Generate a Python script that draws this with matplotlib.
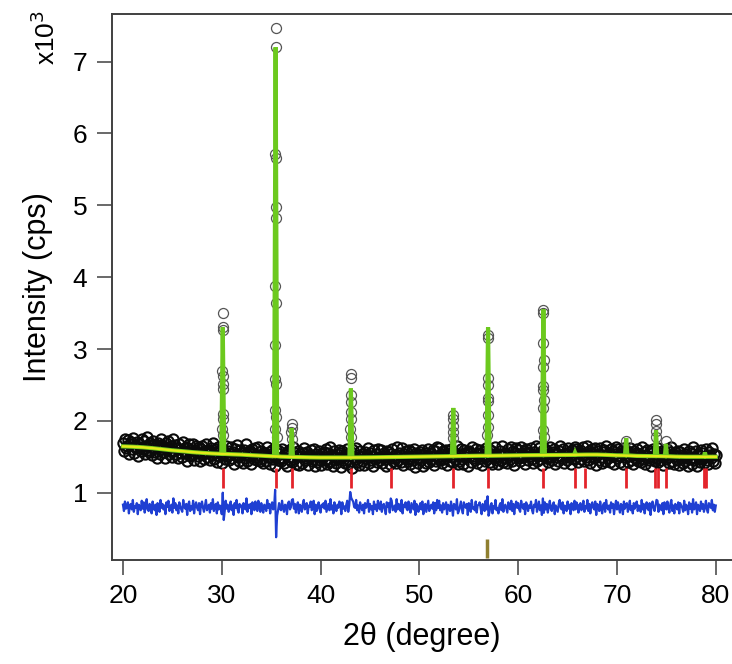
import numpy as np
import matplotlib
matplotlib.use("Agg")
import matplotlib.pyplot as plt

plt.rcParams["font.family"] = ["Liberation Sans", "DejaVu Sans"]

# --- background (calc, x10^3 cps) read every 1 degree from 20 to 80 ---
bg_deg = np.arange(20, 81)
bg_val = [1.645, 1.640, 1.632, 1.620, 1.605, 1.590, 1.578, 1.565, 1.555, 1.546,
          1.540, 1.535, 1.530, 1.522, 1.515, 1.508, 1.502, 1.498, 1.495, 1.492,
          1.490, 1.490, 1.490, 1.490, 1.491, 1.492, 1.494, 1.496, 1.498, 1.500,
          1.502, 1.504, 1.506, 1.508, 1.510, 1.512, 1.514, 1.515, 1.516, 1.518,
          1.520, 1.522, 1.523, 1.524, 1.525, 1.526, 1.528, 1.530, 1.530, 1.526,
          1.520, 1.516, 1.512, 1.510, 1.508, 1.505, 1.502, 1.500, 1.500, 1.500,
          1.500]

# residual obs - calc on the 0.1 deg grid (units of 10 cps), estimated from the band
resid = [
    3, -5, 7, -2, 0, 6, -8, 2, 4, -3, 9, -6, 1, -1, 5, -9, 3, 0, -4, 8,
    -2, 6, -7, 1, 10, -3, -5, 4, 2, -8, 7, 0, -4, 3, -10, 5, 1, -6, 9, -1,
    4, -3, 2, -9, 6, 0, 8, -5, -2, 3, -7, 11, -1, 5, -4, 2, -8, 6, 1, -3,
    -6, 9, 0, -2, 4, -10, 3, 7, -5, 1, -3, 8, -8, 2, 6, -1, -4, 5, -9, 3,
    7, -1, -6, 2, 9, -4, 0, 3, -7, 5, -2, 10, -5, 1, 4, -8, 6, -3, 2, -1,
    -9, 4, 1, -5, 8, -2, 3, -6, 0, 7, -4, 2, -10, 5, -1, 9, -3, -7, 4, 1,
    2, -8, 5, 0, -3, 11, -6, 3, -1, 4, -9, 6, 2, -4, 7, -2, -5, 8, 0, -6,
    5, -2, -7, 3, 1, -5, 9, -1, 4, -8, 2, 6, -3, 0, -10, 7, 3, -4, 5, -2,
    -4, 8, -1, -6, 3, 2, -9, 5, 7, -3, 0, -5, 10, -2, 4, -7, 1, 6, -8, 3,
    1, -6, 4, 9, -3, -1, 5, -8, 2, 0, 7, -4, -2, 8, -9, 3, -5, 1, 6, -3,
    -7, 3, 0, 5, -2, 8, -6, -1, 4, -4, 10, -3, 2, -8, 6, 0, -5, 3, -1, 7,
    4, -9, 6, -2, 1, -5, 3, 8, -6, 2, -3, 5, -10, 7, 0, -1, 9, -4, 2, -7,
    6, 0, -4, 3, -8, 5, -1, 2, 9, -6, 4, -3, 1, -9, 7, -2, 3, -5, 8, 0,
    -3, 7, -6, 1, 4, -2, -9, 6, 0, 5, -7, 3, 8, -4, -1, 2, -6, 10, -3, 4,
    2, -5, 9, -8, 3, 0, 6, -2, -4, 7, -1, -7, 5, 1, -3, 8, -10, 4, 2, -6,
    -1, 5, -3, 7, -9, 2, 4, -6, 1, 8, -5, 0, 3, -2, 6, -8, 5, -4, 9, -1,
    8, -4, 2, -7, 5, -3, 0, 6, -9, 3, 1, -5, 7, -1, -6, 4, 2, -3, 10, -8,
    -5, 1, 7, -3, -8, 6, 2, -1, 4, -10, 5, 3, -6, 9, -2, 0, -4, 7, -7, 2,
    3, 6, -2, -9, 4, 1, -5, 8, -3, 0, 7, -6, 2, 5, -8, 1, -2, 9, -4, -1,
    -8, 2, 5, -4, 10, -6, 1, 3, -2, -7, 6, 0, -3, 8, -5, 4, -9, 2, 7, -1,
    5, -3, -6, 8, 1, -2, 4, -9, 6, 3, -5, 2, -1, 7, -4, -8, 3, 0, 9, -6,
    0, 7, -4, 2, -10, 5, -1, 6, -3, 4, -7, 1, 8, -2, -5, 3, 6, -9, 2, -2,
    -6, 4, 9, -1, -3, 6, -8, 2, 0, -5, 7, -2, 3, -9, 5, 1, -4, 8, -3, 6,
    2, -7, 3, 5, -4, 0, 8, -6, 1, -2, 9, -5, 4, -8, 2, 6, -1, -3, 7, -10,
    4, 1, -5, 7, -2, -8, 3, 5, -6, 9, 0, -3, 2, -7, 6, -1, 4, -9, 1, 8,
    -3, 6, -1, -7, 4, 2, -9, 7, -2, 3, 5, -6, 0, 8, -4, 1, -8, 5, -2, 3,
    7, -5, 2, 0, -6, 9, -3, 4, -8, 1, 6, -2, -4, 5, -10, 3, 7, -1, -5, 2,
    -2, 8, -6, 3, 1, -4, 5, -9, 6, 0, -3, 7, -1, -7, 4, 9, -5, 2, -8, 4,
    1, -3, 6, -8, 5, 2, -1, -6, 8, -4, 3, 0, -9, 6, -2, 4, -7, 10, -3, -1,
    6, -9, 3, 1, -5, 7, -2, 4, -6, 0, 8, -3, -7, 5, 2, -1, 9, -4, 3, -6,
    2]

# calculated peaks: position, top (x10^3 cps), half base width (deg)
peak_pos = [30.10, 35.45, 37.08, 43.07, 53.43, 56.95, 62.55, 65.75, 70.93, 73.95, 74.95, 78.90]
peak_top = [3.30, 7.20, 1.90, 2.45, 2.18, 3.30, 3.55, 1.56, 1.76, 1.87, 1.68, 1.56]
peak_hw = [0.15, 0.16, 0.12, 0.15, 0.14, 0.15, 0.15, 0.10, 0.12, 0.12, 0.10, 0.10]

# observed points sitting on the peaks
pk_obs_x = [30.08, 30.12, 30.10, 30.07, 30.13, 30.09, 30.12, 30.08, 30.12, 30.06, 30.14,
            35.46, 35.45, 35.43, 35.48, 35.44, 35.47, 35.42, 35.48, 35.41, 35.39, 35.51,
            35.37, 35.53, 35.35, 35.56,
            37.06, 37.10, 37.05, 37.12,
            43.06, 43.08, 43.05, 43.09, 43.04, 43.10, 43.02, 43.12,
            53.42, 53.44, 53.41, 53.45, 53.39,
            56.94, 56.97, 56.93, 56.96, 56.92, 56.98, 56.91, 56.99, 56.89,
            62.55, 62.56, 62.54, 62.57, 62.53, 62.56, 62.52, 62.58, 62.51, 62.49, 62.60,
            70.93,
            73.94, 73.97, 73.92, 73.99,
            74.95]
pk_obs_y = [3.50, 3.30, 3.26, 2.70, 2.62, 2.52, 2.45, 2.10, 2.02, 1.88, 1.80,
            7.47, 7.20, 5.72, 5.66, 4.98, 4.82, 3.88, 3.64, 3.05, 2.58, 2.52,
            2.15, 2.05, 1.88, 1.78,
            1.96, 1.90, 1.84, 1.75,
            2.65, 2.60, 2.36, 2.26, 2.12, 2.02, 1.88, 1.78,
            2.08, 2.02, 1.93, 1.85, 1.76,
            3.20, 3.16, 2.60, 2.50, 2.32, 2.27, 2.08, 1.92, 1.80,
            3.55, 3.50, 3.08, 2.85, 2.75, 2.48, 2.43, 2.29, 2.18, 1.87, 1.78,
            1.72,
            2.01, 1.95, 1.86, 1.78,
            1.72]

# difference curve spikes at the strong reflections
spike_tt = [30.1, 30.2, 35.4, 35.5, 35.6, 37.1, 43.0, 43.1, 43.2, 47.1, 53.4, 56.9, 57.0, 62.5, 62.6, 74.0]
spike_val = [1.00, 0.62, 1.04, 0.38, 0.68, 0.90, 1.01, 0.93, 0.90, 0.92, 0.68, 0.95, 0.68, 0.92, 0.72, 0.90]
diff_offset = 0.80

# reflection markers
refl_main = [30.10, 35.45, 37.08, 43.08, 47.13, 53.43, 56.95, 62.55, 65.75, 66.80,
             70.93, 73.85, 74.12, 75.00, 78.80, 79.00]
refl_second = [56.85]

# ---- build series ----
tt = np.round(np.linspace(20, 80, 601), 2)
bg_step = np.repeat(bg_val, [10] * 60 + [1])
obs = bg_step + np.array(resid) * 0.014
diff = diff_offset + np.array(resid) * 0.011
for t, v in zip(spike_tt, spike_val):
    diff[np.argmin(np.abs(tt - t))] = v

# calc curve vertices: background knots plus one triangle per peak
cx, cy = [], []
for d, v in zip(bg_deg, bg_val):
    if all(abs(d - p) > h for p, h in zip(peak_pos, peak_hw)):
        cx.append(d)
        cy.append(v)
for p, top, h in zip(peak_pos, peak_top, peak_hw):
    base = bg_val[int(p) - 20]
    cx += [p - h, p, p + h]
    cy += [base, top, base]
order = np.argsort(cx)
cx = np.array(cx)[order]
cy = np.array(cy)[order]

fig = plt.figure(figsize=(7.32, 6.64), dpi=100)
ax = fig.add_axes([0.1526, 0.1566, 0.8474, 0.8224])

ax.plot(tt, obs, "o", ms=7.4, mfc="none", mec="#0a0a0a", mew=1.5, zorder=2)
ax.plot(pk_obs_x, pk_obs_y, "o", ms=7.2, mfc="none", mec="#555555", mew=0.9, zorder=2)
ax.plot(cx, cy, color="#6cc91e", lw=3, zorder=3, solid_joinstyle="miter")
ax.plot(bg_deg, bg_val, color="#e2ea1a", lw=1.8, zorder=4)
ax.plot(tt, diff, color="#1f3fd2", lw=1.6, zorder=3)
ax.vlines(refl_main, 1.06, 1.34, color="#e3242b", lw=2, zorder=3)
ax.vlines(refl_second, 0.085, 0.35, color="#8f7f2f", lw=2.5, zorder=3)

ax.set_xlim(18.86, 81.64)
ax.set_ylim(0.063, 7.664)
ax.set_xticks(range(20, 81, 10))
ax.set_yticks(range(1, 8))
ax.tick_params(axis="both", labelsize=19, length=10.5, width=1.1, color="#404040", pad=7)
for s in ax.spines.values():
    s.set_color("#404040")
    s.set_linewidth(1.4)
ax.spines["right"].set_visible(False)

ax.set_xlabel("2θ (degree)", fontsize=22, labelpad=10)
ax.set_ylabel("Intensity (cps)", fontsize=22, labelpad=14)
fig.text(0.062, 0.985, "x10$^3$", rotation=90, fontsize=19, ha="center", va="top")

fig.savefig("out.png", dpi=100)
